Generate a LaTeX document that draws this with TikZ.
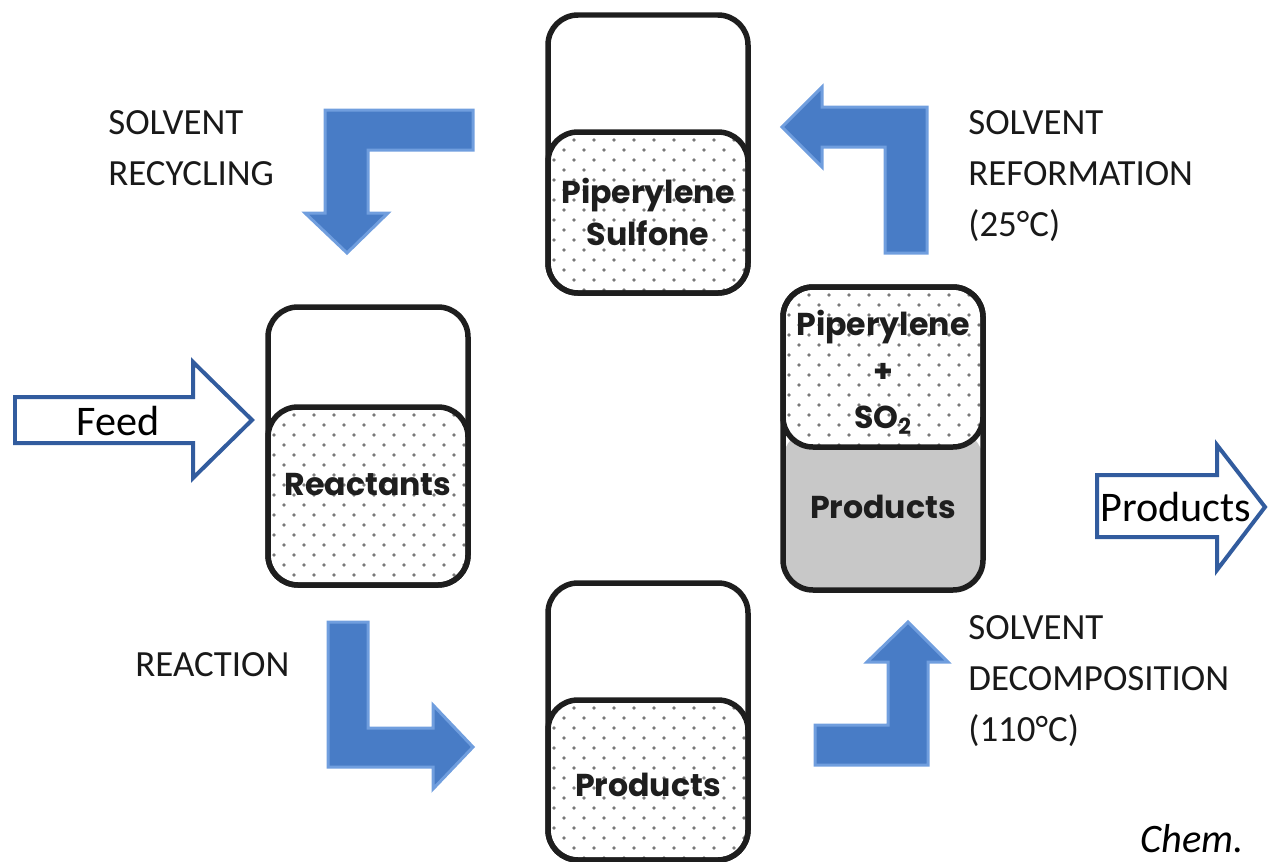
\documentclass[tikz,border=0pt]{standalone}
\usepackage{fontspec}
\setmainfont{Carlito}
\newfontfamily\vfont{Poppins}
% dotted liquid region: white base clipped to the shape, then a staggered grid of dots
\newcommand{\liquiddots}[4]{%
  \fill[white,rounded corners=0.6cm] (#1,#2) rectangle (#3,#4);
  \begin{scope}
    \clip[rounded corners=0.6cm] (#1,#2) rectangle (#3,#4);
    \foreach \r in {0,...,30}{
      \foreach \c in {0,...,11}{
        \fill[dotc] ({#1+6+\c*20+mod(\r,2)*10},{#2+8+\r*10}) circle (0.038cm);
      }
    }
  \end{scope}}
\begin{document}
\begin{tikzpicture}[x=0.02cm,y=-0.02cm,
  vessel/.style={draw=vline,line width=0.11cm,rounded corners=0.6cm},
  bent/.style={fill=bluefill,draw=blueedge,line width=0.06cm,line join=miter},
  hollow/.style={fill=white,draw=blueline,line width=0.08cm,line join=miter},
  vtext/.style={font=\vfont\bfseries\fontsize{18}{22}\selectfont,text=vline,align=center},
  lbl/.style={font=\fontsize{21}{29}\selectfont,text=black!90,align=left,anchor=north west,inner sep=0pt},
  atext/.style={font=\fontsize{24}{28}\selectfont,text=black}]
\definecolor{vline}{RGB}{30,30,30}
\definecolor{dotc}{RGB}{120,120,120}
\definecolor{prodgrey}{RGB}{200,200,200}
\definecolor{bluefill}{RGB}{72,124,198}
\definecolor{blueedge}{RGB}{112,158,222}
\definecolor{blueline}{RGB}{50,92,158}
\useasboundingbox (0,0) rectangle (1268,862);

% ---- top vessel: Piperylene Sulfone
\liquiddots{548}{132}{748}{293}
\draw[vessel] (548,15) rectangle (748,293);
\draw[vessel] (548,132) rectangle (748,293);
\node[vtext] (sulf) at (648,212) {Piperylene\\[2pt]Sulfone};

% ---- left vessel: Reactants
\liquiddots{268}{407}{468}{585}
\draw[vessel] (268,307) rectangle (468,585);
\draw[vessel] (268,407) rectangle (468,585);
\node[vtext] (react) at (368,485) {Reactants};

% ---- bottom vessel: Products
\liquiddots{548}{700}{748}{860}
\draw[vessel] (548,583) rectangle (748,860);
\draw[vessel] (548,700) rectangle (748,860);
\node[vtext] (prodb) at (648,785) {Products};

% ---- right vessel: Piperylene + SO2 over Products
\fill[prodgrey,rounded corners=0.6cm] (783,430) rectangle (983,590);
\liquiddots{783}{287}{983}{447}
\draw[vessel] (783,287) rectangle (983,590);
\draw[vessel] (783,287) rectangle (983,447);
\node[vtext] (pip) at (883,327) {Piperylene};
\node[vtext] (plus) at (883,373) {+};
\node[vtext] (so2) at (883,420) {SO\textsubscript{2}};
\node[vtext] (prodr) at (883,507) {Products};

% ---- bent process arrows
\draw[bent] (473,110) -- (325,110) -- (325,213) -- (305,213) -- (347,253)
  -- (388,213) -- (368,213) -- (368,150) -- (473,150) -- cycle;
\draw[bent] (885,253) -- (927,253) -- (927,107) -- (822,107) -- (822,87)
  -- (782,127) -- (822,167) -- (822,147) -- (885,147) -- cycle;
\draw[bent] (328,622) -- (368,622) -- (368,728) -- (433,728) -- (433,705)
  -- (473,747) -- (433,789) -- (433,767) -- (328,767) -- cycle;
\draw[bent] (815,725) -- (888,725) -- (888,662) -- (867,662) -- (908,622)
  -- (948,662) -- (928,662) -- (928,765) -- (815,765) -- cycle;

% ---- feed and product streams
\draw[hollow] (15,397) -- (193,397) -- (193,362) -- (252,420) -- (193,478)
  -- (193,443) -- (15,443) -- cycle;
\node[atext] (feed) at (118,421) {Feed};
\draw[hollow] (1097,475) -- (1217,475) -- (1217,445) -- (1265,507) -- (1217,570)
  -- (1217,537) -- (1097,537) -- cycle;
\node[atext] (prodout) at (1176,507) {Products};

% ---- step labels
\node[lbl] (l1) at (108,110) {SOLVENT\\RECYCLING};
\node[lbl] (l2) at (968,110) {SOLVENT\\REFORMATION\\(25°C)};
\node[lbl] (l3) at (135,652) {REACTION};
\node[lbl] (l4) at (968,615) {SOLVENT\\DECOMPOSITION\\(110°C)};

\node[font=\itshape\fontsize{23}{26}\selectfont,anchor=base west,inner sep=0pt] (src) at (1140,852) {Chem.};
\end{tikzpicture}
\end{document}
